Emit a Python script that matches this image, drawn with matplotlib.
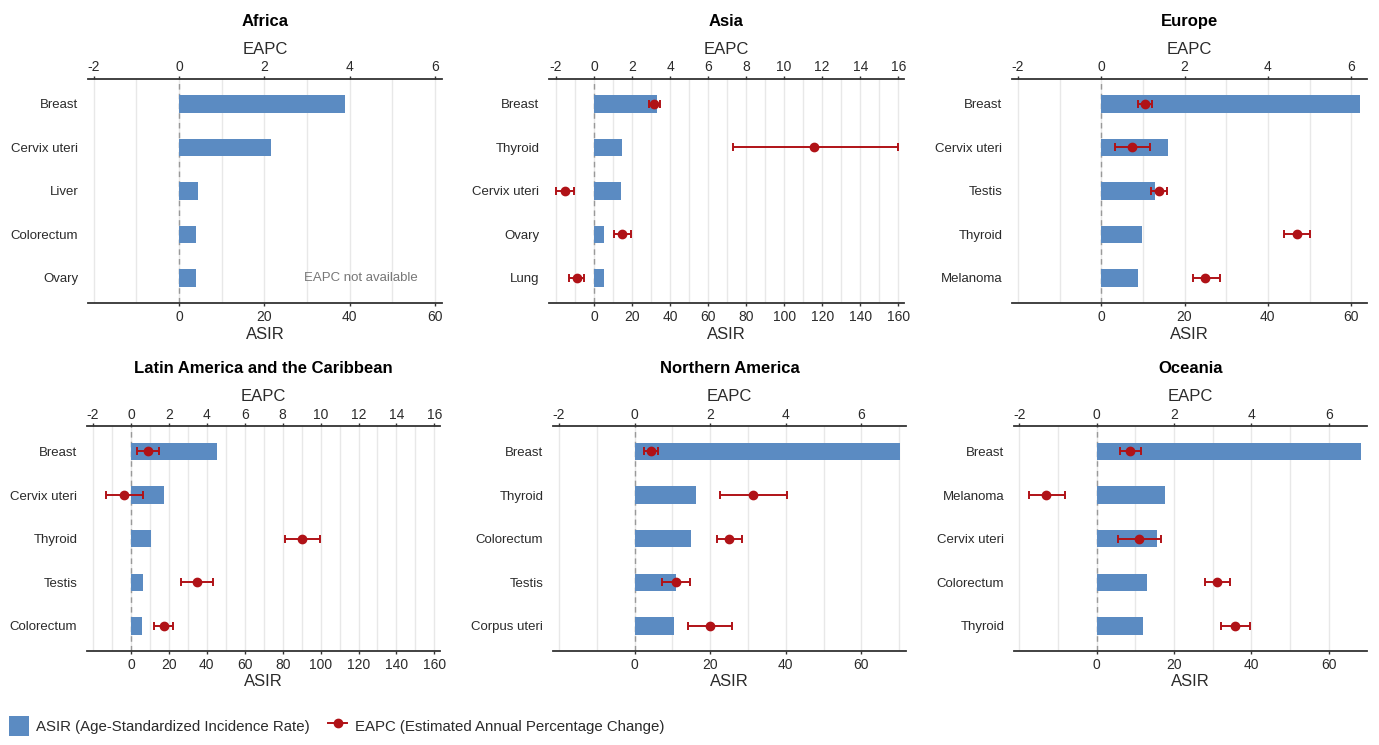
import numpy as np
import matplotlib
matplotlib.use("Agg")
import matplotlib.pyplot as plt
from matplotlib.patches import Patch
from matplotlib.lines import Line2D

plt.rcParams['font.family'] = ['Liberation Sans', 'DejaVu Sans']
plt.rcParams['axes.unicode_minus'] = False

# ---- data ----
regions = ["Africa", "Asia", "Europe",
           "Latin America and the Caribbean", "Northern America", "Oceania"]

africa_sites = ["Breast", "Cervix uteri", "Liver", "Colorectum", "Ovary"]
africa_asir = [39.0, 21.5, 4.5, 4.1, 4.1]
africa_eapc = [None, None, None, None, None]
africa_lo = [None, None, None, None, None]
africa_hi = [None, None, None, None, None]

asia_sites = ["Breast", "Thyroid", "Cervix uteri", "Ovary", "Lung"]
asia_asir = [33.2, 14.7, 14.0, 5.4, 5.1]
asia_eapc = [3.18, 11.57, -1.54, 1.47, -0.91]
asia_lo = [2.90, 7.33, -1.98, 1.03, -1.31]
asia_hi = [3.46, 16.0, -1.07, 1.94, -0.51]

europe_sites = ["Breast", "Cervix uteri", "Testis", "Thyroid", "Melanoma"]
europe_asir = [62.1, 16.0, 12.9, 9.8, 8.9]
europe_eapc = [1.06, 0.75, 1.38, 4.70, 2.50]
europe_lo = [0.89, 0.34, 1.20, 4.39, 2.20]
europe_hi = [1.23, 1.18, 1.58, 5.02, 2.84]

latam_sites = ["Breast", "Cervix uteri", "Thyroid", "Testis", "Colorectum"]
latam_asir = [45.2, 17.4, 10.4, 6.5, 5.6]
latam_eapc = [0.88, -0.39, 9.01, 3.47, 1.73]
latam_lo = [0.30, -1.34, 8.12, 2.64, 1.23]
latam_hi = [1.50, 0.62, 9.95, 4.31, 2.24]

noram_sites = ["Breast", "Thyroid", "Colorectum", "Testis", "Corpus uteri"]
noram_asir = [70.3, 16.2, 14.8, 11.0, 10.5]
noram_eapc = [0.43, 3.13, 2.51, 1.09, 1.99]
noram_lo = [0.26, 2.25, 2.18, 0.73, 1.42]
noram_hi = [0.63, 4.03, 2.83, 1.47, 2.58]

oceania_sites = ["Breast", "Melanoma", "Cervix uteri", "Colorectum", "Thyroid"]
oceania_asir = [68.3, 17.7, 15.5, 13.1, 11.9]
oceania_eapc = [0.87, -1.30, 1.09, 3.12, 3.58]
oceania_lo = [0.59, -1.74, 0.54, 2.79, 3.22]
oceania_hi = [1.15, -0.82, 1.65, 3.45, 3.96]

panels = [
    (africa_sites, africa_asir, africa_eapc, africa_lo, africa_hi),
    (asia_sites, asia_asir, asia_eapc, asia_lo, asia_hi),
    (europe_sites, europe_asir, europe_eapc, europe_lo, europe_hi),
    (latam_sites, latam_asir, latam_eapc, latam_lo, latam_hi),
    (noram_sites, noram_asir, noram_eapc, noram_lo, noram_hi),
    (oceania_sites, oceania_asir, oceania_eapc, oceania_lo, oceania_hi),
]

# ASIR axis limits (EAPC axis = ASIR / 10)
xlims = [(-21.3, 61.6), (-23.7, 163), (-21.4, 63.8),
         (-23.2, 163), (-21.6, 71.8), (-21.4, 69.9)]

# axes boxes in figure fractions
boxes = [(0.0638, 0.593, 0.2567, 0.3015),
         (0.3981, 0.593, 0.2574, 0.3015),
         (0.7339, 0.593, 0.2574, 0.3015),
         (0.0631, 0.126, 0.2560, 0.302),
         (0.4010, 0.126, 0.2560, 0.302),
         (0.7353, 0.126, 0.2560, 0.302)]

BAR = '#5b8bc2'
RED = '#b01217'
DARK = '#333333'
TXT = '#2b2b2b'

fig = plt.figure(figsize=(13.79, 7.45), dpi=100)

for i, (name, (sites, asir, eapc, lo, hi)) in enumerate(zip(regions, panels)):
    ax = fig.add_axes(boxes[i])
    y = np.arange(len(sites))
    ax.barh(y, asir, height=0.4, color=BAR, zorder=2)
    x0, x1 = xlims[i]
    ax.set_xlim(x0, x1)
    ax.set_ylim(len(sites) - 1 + 0.58, -0.58)
    ax.set_yticks(y)
    ax.set_yticklabels(sites)
    ax.set_xticks(np.arange(0, x1, 20))
    ax.set_xticks(np.arange(-20, x1, 10), minor=True)
    ax.grid(axis='x', which='both', color='#e8e8e8', linewidth=1.0, zorder=0)
    ax.set_axisbelow(True)
    ax.axvline(0, color='#999999', linestyle=(0, (4, 3)), linewidth=1.0, zorder=1)
    ax.tick_params(axis='y', length=0, pad=7, labelsize=9.5, labelcolor=TXT)
    ax.tick_params(axis='x', which='major', length=2.2, width=1.0, color=DARK,
                   labelsize=10, labelcolor=TXT, pad=2.5)
    ax.tick_params(axis='x', which='minor', length=0)
    for s in ['left', 'right', 'top']:
        ax.spines[s].set_visible(False)
    ax.spines['bottom'].set_color(DARK)
    ax.spines['bottom'].set_linewidth(1.3)
    ax.set_xlabel("ASIR", fontsize=12, color=TXT, labelpad=2)

    ax2 = ax.twiny()
    ax2.set_xlim(x0 / 10, x1 / 10)
    ax2.set_ylim(ax.get_ylim())
    ax2.set_xticks(np.arange(-2, x1 / 10 + 0.01, 2))
    ax2.tick_params(axis='x', length=2.2, width=1.0, color=DARK,
                    labelsize=10, labelcolor=TXT, pad=1)
    for s in ['left', 'right', 'bottom']:
        ax2.spines[s].set_visible(False)
    ax2.spines['top'].set_color(DARK)
    ax2.spines['top'].set_linewidth(1.3)
    ax2.set_xlabel("EAPC", fontsize=12, color=TXT, labelpad=4.5)
    ax2.set_title(name, fontsize=12, fontweight='bold', y=1.235, pad=0)

    pts = [k for k in range(len(sites)) if eapc[k] is not None]
    if pts:
        e = np.array([eapc[k] for k in pts])
        l = np.array([lo[k] for k in pts])
        h = np.array([hi[k] for k in pts])
        ax2.errorbar(e, y[pts], xerr=[e - l, h - e], fmt='o', color=RED,
                     markersize=6, elinewidth=1.4, capsize=3, capthick=1.4,
                     zorder=3)
    else:
        ax.text(56, y[-1], "EAPC not available", ha='right', va='center',
                fontsize=9.5, color='#777777')

handles = [Patch(facecolor=BAR, edgecolor='none'),
           Line2D([], [], color=RED, marker='o', markersize=6, linewidth=1.4)]
fig.legend(handles, ["ASIR (Age-Standardized Incidence Rate)",
                     "EAPC (Estimated Annual Percentage Change)"],
           loc='lower left', bbox_to_anchor=(0.0, 0.0), ncol=2, frameon=False,
           fontsize=10.8, handlelength=1.3, handleheight=1.7, handletextpad=0.5,
           columnspacing=1.2, borderaxespad=0.2, labelcolor=TXT)

fig.savefig("out.png", dpi=100, facecolor='white')
